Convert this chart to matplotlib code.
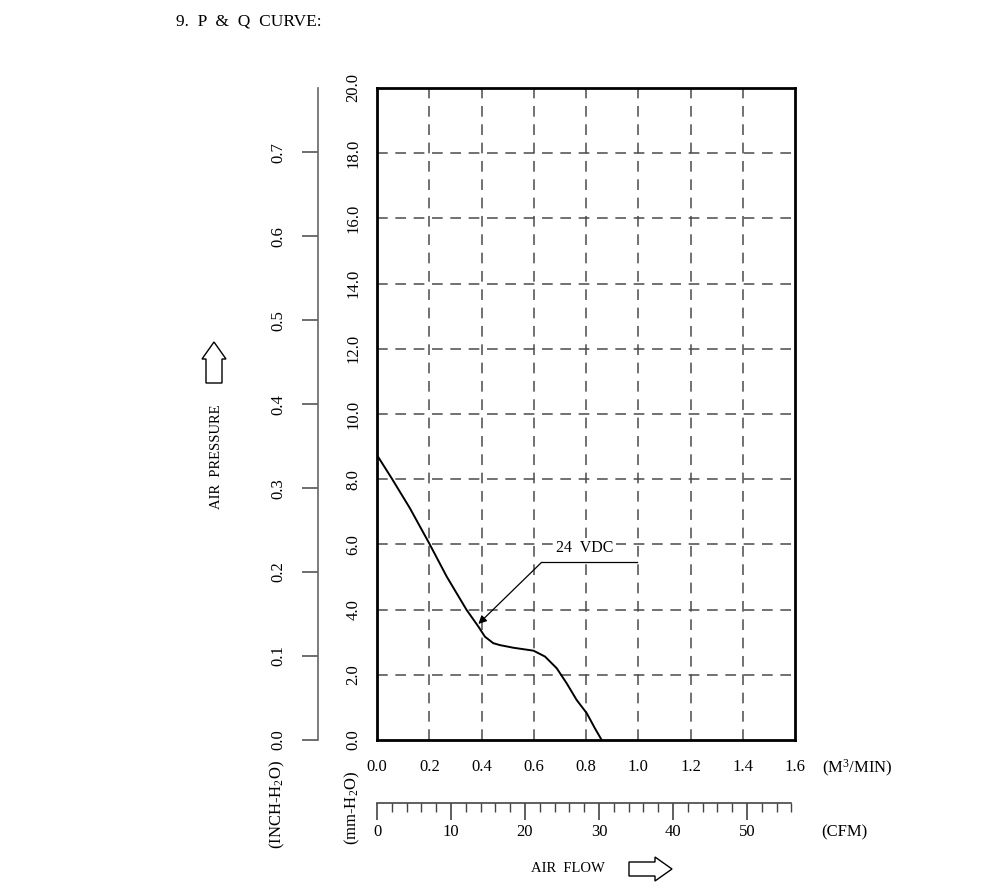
import numpy as np
import matplotlib
matplotlib.use("Agg")
import matplotlib.pyplot as plt
from matplotlib.patches import Polygon

plt.rcParams['font.family'] = ['Liberation Serif', 'DejaVu Serif']
plt.rcParams['mathtext.default'] = 'regular'

# P-Q curve (air flow in M3/MIN, pressure in mm-H2O)
flow = [0.0, 0.056, 0.126, 0.2, 0.267, 0.343, 0.388, 0.413, 0.445, 0.471,
        0.522, 0.599, 0.643, 0.688, 0.726, 0.764, 0.803, 0.834, 0.86]
pressure = [8.74, 8.03, 7.11, 6.03, 5.01, 3.99, 3.48, 3.17, 2.97, 2.91,
            2.83, 2.74, 2.56, 2.20, 1.74, 1.23, 0.82, 0.36, 0.0]
curve_label = "24  VDC"

flow_ticks = [0.0, 0.2, 0.4, 0.6, 0.8, 1.0, 1.2, 1.4, 1.6]
mm_ticks = [0.0, 2.0, 4.0, 6.0, 8.0, 10.0, 12.0, 14.0, 16.0, 18.0, 20.0]
inch_ticks = [0.0, 0.1, 0.2, 0.3, 0.4, 0.5, 0.6, 0.7]
cfm_major = [0, 10, 20, 30, 40, 50]
cfm_minor = list(range(0, 57, 2))

M3MIN_TO_CFM = 35.31
MM_PER_INCH = 25.75   # échelle telle que dessinée sur la fiche

W, H = 1000, 893
fig = plt.figure(figsize=(W / 100, H / 100), dpi=100)


def fr(x0, y0, x1, y1):
    """rectangle en pixels (origine en haut) -> coordonnées figure"""
    return [x0 / W, 1 - y1 / H, (x1 - x0) / W, (y1 - y0) / H]


def px(x, y):
    return (x / W, 1 - y / H)


# graphique principal
ax = fig.add_axes(fr(377, 88, 795, 740))
ax.set_xlim(0, 1.6)
ax.set_ylim(0, 20)
ax.set_xticks(flow_ticks)
ax.set_xticklabels([f"{v:.1f}" for v in flow_ticks], fontsize=12)
ax.set_yticks(mm_ticks)
ax.set_yticklabels([f"{v:.1f}" for v in mm_ticks], fontsize=12, rotation=90, va='center')
ax.tick_params(axis='x', length=0, pad=14)
ax.tick_params(axis='y', length=0, pad=11)
for s in ax.spines.values():
    s.set_linewidth(2.0)
for v in flow_ticks[1:-1]:
    ax.axvline(v, color='#4a4a4a', lw=1.1, dashes=(7, 5))
for v in mm_ticks[1:-1]:
    ax.axhline(v, color='#4a4a4a', lw=1.1, dashes=(7, 5))

ax.plot(flow, pressure, color='black', lw=1.4)

# annotation 24 VDC
tip_x = 0.388
tip_y = np.interp(tip_x, flow, pressure) + 0.08
knee_x, knee_y = 0.63, 5.45
ax.plot([knee_x, 0.995], [knee_y, knee_y], color='black', lw=0.9)
ax.annotate("", xy=(tip_x, tip_y), xytext=(knee_x, knee_y),
            arrowprops=dict(arrowstyle='-|>', color='black', lw=0.9,
                            mutation_scale=12, shrinkA=0, shrinkB=0))
ax.text(0.796, 5.9, curve_label, fontsize=11.5, ha='center', va='center',
        bbox=dict(facecolor='white', edgecolor='none', pad=1.5))

# échelle INCH-H2O
ax_in = fig.add_axes(fr(318, 88, 330, 740))
ax_in.set_ylim(0, 20 / MM_PER_INCH)
ax_in.set_xticks([])
ax_in.set_yticks(inch_ticks)
ax_in.set_yticklabels([f"{v:.1f}" for v in inch_ticks], fontsize=12, rotation=90, va='center')
ax_in.tick_params(axis='y', length=11.5, width=1.2, color='#555555', pad=11)
for k in ['top', 'right', 'bottom']:
    ax_in.spines[k].set_visible(False)
ax_in.spines['left'].set_color('#666666')
ax_in.spines['left'].set_linewidth(1.2)
ax_in.patch.set_visible(False)

# échelle CFM
ax_cfm = fig.add_axes(fr(377, 790, 795, 803))
ax_cfm.set_xlim(0, 1.6 * M3MIN_TO_CFM)
ax_cfm.set_yticks([])
ax_cfm.set_xticks(cfm_major)
ax_cfm.set_xticklabels([str(v) for v in cfm_major], fontsize=12)
ax_cfm.set_xticks(cfm_minor, minor=True)
ax_cfm.tick_params(axis='x', which='major', length=12, width=1.2, color='#444444', pad=3)
ax_cfm.tick_params(axis='x', which='minor', length=6.5, width=1.0, color='#444444')
for k in ['top', 'right', 'left']:
    ax_cfm.spines[k].set_visible(False)
ax_cfm.spines['bottom'].set_bounds(0, cfm_minor[-1])
ax_cfm.spines['bottom'].set_color('#444444')
ax_cfm.spines['bottom'].set_linewidth(1.2)
ax_cfm.patch.set_visible(False)

# textes
fig.text(*px(176, 21), "9.  P  &  Q  CURVE:", fontsize=12.5, ha='left', va='center')
fig.text(*px(216, 457), "AIR  PRESSURE", fontsize=10.5, rotation=90, ha='center', va='center')
fig.text(*px(568, 868), "AIR  FLOW", fontsize=10.5, ha='center', va='center')
fig.text(*px(857, 768), "(M$^3$/MIN)", fontsize=12, ha='center', va='center')
fig.text(*px(844, 832), "(CFM)", fontsize=12, ha='center', va='center')
fig.text(*px(277, 805), "(INCH-H$_2$O)", fontsize=12, rotation=90, ha='center', va='center')
fig.text(*px(352, 808), "(mm-H$_2$O)", fontsize=12, rotation=90, ha='center', va='center')

# flèches creuses
up = [(206, 383), (222, 383), (222, 359), (226, 359), (214, 342), (202, 359), (206, 359)]
right = [(629, 862), (655, 862), (655, 857), (672, 869), (655, 881), (655, 876), (629, 876)]
for pts in (up, right):
    fig.patches.append(Polygon([px(x, y) for x, y in pts], closed=True,
                               transform=fig.transFigure, facecolor='white',
                               edgecolor='black', lw=1.0))

fig.savefig("out.png", dpi=100)
